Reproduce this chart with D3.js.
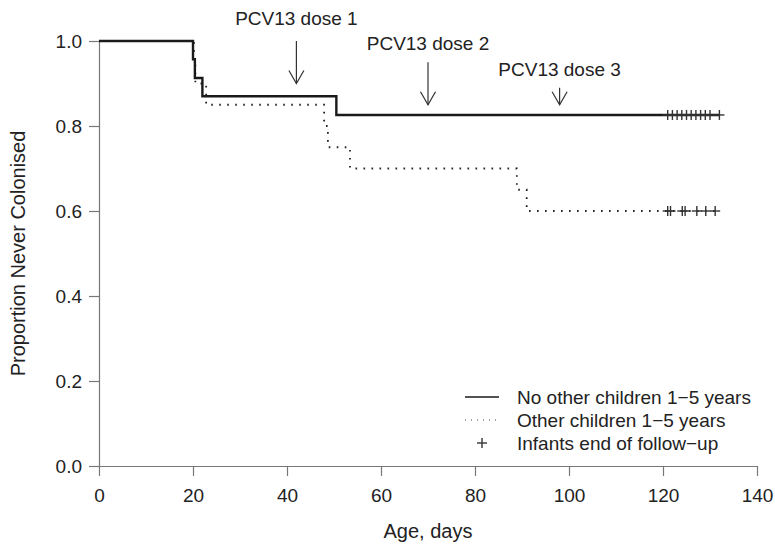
<!DOCTYPE html>
<html>
<head>
<meta charset="utf-8">
<script src="https://cdn.jsdelivr.net/npm/d3@7"></script>
<style>
  html, body { margin: 0; padding: 0; background: #fff; }
  svg { display: block; }
  text { font-family: "Liberation Sans", Arial, Helvetica, sans-serif; fill: #222; }
</style>
</head>
<body>
<svg id="chart" width="775" height="547"></svg>
<script>
// Kaplan–Meier curves: proportion of infants never colonised, by household exposure
const noOtherTimes  = [0, 20, 20.4, 22, 50.5];
const noOtherProps  = [1.0, 0.957, 0.913, 0.870, 0.826];
const noOtherEnd    = 132;
const noOtherCensor = [121, 122, 123, 124, 125, 126, 127, 128, 129, 130, 132];

const otherTimes  = [0, 20.2, 20.5, 22.8, 47.9, 48.7, 53.4, 88.9, 91];
const otherProps  = [1.0, 0.95, 0.90, 0.85, 0.80, 0.75, 0.70, 0.65, 0.60];
const otherEnd    = 131.1;
const otherCensor = [121, 121.6, 124.1, 124.7, 127.2, 129.1, 131.1];

// Vaccination schedule
const doseDays   = [42, 70, 98];
const doseLabels = ["PCV13 dose 1", "PCV13 dose 2", "PCV13 dose 3"];

const xTicks = [0, 20, 40, 60, 80, 100, 120, 140];
const yTicks = [0.0, 0.2, 0.4, 0.6, 0.8, 1.0];

const legendLabels = ["No other children 1\u22125 years", "Other children 1\u22125 years", "Infants end of follow\u2212up"];

const svg = d3.select("#chart");
const x = d3.scaleLinear().domain([0, 140]).range([99, 757]);
const y = d3.scaleLinear().domain([0, 1]).range([466, 41]);

const FS = 19;
const FT = 20;
const axisColor = "#777";

// Axes
const gx = svg.append("g").attr("transform", `translate(0,${y(0)})`)
  .call(d3.axisBottom(x).tickValues(xTicks).tickFormat(d3.format("d")).tickSize(10).tickSizeOuter(0).tickPadding(13));
const gy = svg.append("g").attr("transform", `translate(${x(0)},0)`)
  .call(d3.axisLeft(y).tickValues(yTicks).tickFormat(d3.format(".1f")).tickSize(10).tickSizeOuter(0).tickPadding(7));
[gx, gy].forEach(g => {
  g.select(".domain").attr("stroke", axisColor).attr("stroke-width", 1.2);
  g.selectAll(".tick line").attr("stroke", axisColor).attr("stroke-width", 1.2);
  g.selectAll(".tick text").attr("font-size", FS).attr("fill", "#222")
    .attr("font-family", "Liberation Sans, Arial, sans-serif");
});

// Axis titles
svg.append("text").attr("x", (x(0) + x(140)) / 2).attr("y", 538)
  .attr("text-anchor", "middle").attr("font-size", FT).text("Age, days");
svg.append("text").attr("transform", `translate(25,${(y(0) + y(1)) / 2}) rotate(-90)`)
  .attr("text-anchor", "middle").attr("font-size", FT).text("Proportion Never Colonised");

// Step curves
function stepData(times, props, end) {
  const pts = times.map((t, i) => ({ t, p: props[i] }));
  pts.push({ t: end, p: props[props.length - 1] });
  return pts;
}
const line = d3.line().x(d => x(d.t)).y(d => y(d.p)).curve(d3.curveStepAfter);

svg.append("path").datum(stepData(otherTimes, otherProps, otherEnd))
  .attr("d", line).attr("fill", "none").attr("stroke", "#222")
  .attr("stroke-width", 1.8).attr("stroke-dasharray", "1.6,6.4");

svg.append("path").datum(stepData(noOtherTimes, noOtherProps, noOtherEnd))
  .attr("d", line).attr("fill", "none").attr("stroke", "#1a1a1a")
  .attr("stroke-width", 2.4).attr("stroke-linejoin", "miter");

// Censoring marks
function stepValue(times, props, t) {
  let v = props[0];
  times.forEach((tt, i) => { if (tt <= t) v = props[i]; });
  return v;
}
function plus(g, cx, cy, r) {
  g.append("line").attr("x1", cx - r).attr("x2", cx + r).attr("y1", cy).attr("y2", cy);
  g.append("line").attr("x1", cx).attr("x2", cx).attr("y1", cy - r).attr("y2", cy + r);
}
const cg = svg.append("g").attr("stroke", "#333").attr("stroke-width", 1.4);
noOtherCensor.forEach(t => plus(cg, x(t), y(stepValue(noOtherTimes, noOtherProps, t)), 5));
otherCensor.forEach(t => plus(cg, x(t), y(stepValue(otherTimes, otherProps, t)), 5));

// Dose arrows and labels
const arrowTop = [1.0, 0.95, 0.89];
const arrowTip = [0.90, 0.85, 0.85];
const labelY = [18, 43, 69];
const ag = svg.append("g").attr("stroke", "#333").attr("stroke-width", 1.2).attr("fill", "none");
doseDays.forEach((d, i) => {
  const cx = x(d), y0 = y(arrowTop[i]), y1 = y(arrowTip[i]);
  ag.append("line").attr("x1", cx).attr("x2", cx).attr("y1", y0).attr("y2", y1);
  ag.append("path").attr("d", `M${cx - 7.5},${y1 - 13}L${cx},${y1}L${cx + 7.5},${y1 - 13}`);
  svg.append("text").attr("x", cx).attr("y", labelY[i]).attr("dy", "0.35em")
    .attr("text-anchor", "middle").attr("font-size", FS).text(doseLabels[i]);
});

// Legend
const legY = [397, 420, 443];
const lg = svg.append("g");
lg.append("line").attr("x1", 465).attr("x2", 499).attr("y1", legY[0]).attr("y2", legY[0])
  .attr("stroke", "#1a1a1a").attr("stroke-width", 1.4);
lg.append("line").attr("x1", 465).attr("x2", 499).attr("y1", legY[1]).attr("y2", legY[1])
  .attr("stroke", "#444").attr("stroke-width", 1.1).attr("stroke-dasharray", "1,5");
const lp = lg.append("g").attr("stroke", "#333").attr("stroke-width", 1.4);
plus(lp, 482, legY[2], 5);
legendLabels.forEach((t, i) => {
  lg.append("text").attr("x", 517).attr("y", legY[i]).attr("dy", "0.35em")
    .attr("font-size", FS).text(t);
});
</script>
</body>
</html>
